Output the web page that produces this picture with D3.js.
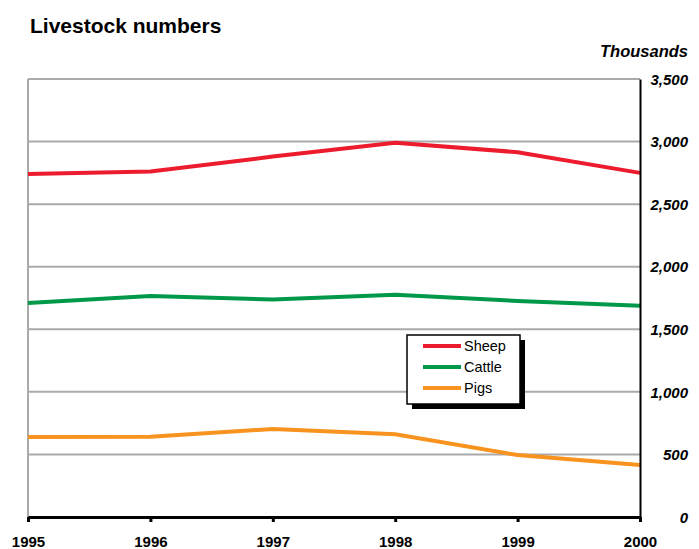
<!DOCTYPE html>
<html>
<head>
<meta charset="utf-8">
<script src="https://cdn.jsdelivr.net/npm/d3@7"></script>
<style>
  body { margin: 0; background: #fff; }
  text { font-family: "Liberation Sans", Arial, Helvetica, sans-serif; }
</style>
</head>
<body>
<div id="chart"></div>
<script>
// Data

var years = [1995, 1996, 1997, 1998, 1999, 2000];
var sheep = [2740, 2760, 2880, 2990, 2915, 2750];
var cattle = [1710, 1766, 1738, 1776, 1726, 1688];
var pigs = [640, 642, 703, 661, 495, 415];
var yTicks = [0, 500, 1000, 1500, 2000, 2500, 3000, 3500];

var series = [
  {name: "Sheep", values: sheep, color: "#ec1c2e"},
  {name: "Cattle", values: cattle, color: "#00994a"},
  {name: "Pigs", values: pigs, color: "#f7931e"}
];

var margin = {top: 79, right: 59, bottom: 32, left: 28};
    width = 699 - margin.left - margin.right;
    height = 549 - margin.top - margin.bottom;

var svg = d3.select("#chart")
    .append("svg")
    .attr("width", 699)
    .attr("height", 549);

var g = svg.append("g")
    .attr("transform", `translate(${margin.left}, ${margin.top})`);

// Scales

var xScale = d3.scalePoint()
    .domain(years)
    .range([0, width]);

var yScale = d3.scaleLinear()
    .domain([0, 3500])
    .range([height, 0]);

// Gridlines

g.selectAll(".grid")
    .data(yTicks.filter(function(d) { return d > 0; }))
    .enter().append("line")
    .attr("x1", 0)
    .attr("x2", width)
    .attr("y1", function(d) { return yScale(d); })
    .attr("y2", function(d) { return yScale(d); })
    .attr("stroke", "#aaaaaa")
    .attr("stroke-width", 2);

// left border (grey)
g.append("line")
    .attr("x1", 0).attr("x2", 0)
    .attr("y1", 0).attr("y2", height)
    .attr("stroke", "#aaaaaa")
    .attr("stroke-width", 2);

// Lines

var line = d3.line()
    .x(function(d, i) { return xScale(years[i]); })
    .y(function(d) { return yScale(d); });

g.selectAll(".series")
    .data(series)
    .enter().append("path")
    .attr("d", function(d) { return line(d.values); })
    .attr("fill", "none")
    .attr("stroke", function(d) { return d.color; })
    .attr("stroke-width", 4);

// Right axis

var yAxis = g.append("g")
    .attr("transform", `translate(${width}, 0)`)
    .call(d3.axisRight(yScale).tickValues(yTicks).tickSize(0).tickFormat(d3.format(",")));

yAxis.select(".domain")
    .attr("stroke", "#000")
    .attr("stroke-width", 2);

yAxis.selectAll(".tick text")
    .attr("x", 48)
    .attr("text-anchor", "end")
    .attr("dy", "0.35em")
    .style("font-size", "15px")
    .style("font-weight", "bold")
    .style("font-style", "italic")
    .attr("fill", "#000");

// Bottom axis

var xAxis = g.append("g")
    .attr("transform", `translate(0, ${height})`)
    .call(d3.axisBottom(xScale).tickSize(5).tickSizeOuter(0).tickPadding(14));

xAxis.select(".domain")
    .attr("stroke", "#000")
    .attr("stroke-width", 3);

xAxis.selectAll(".tick line")
    .attr("stroke", "#000")
    .attr("stroke-width", 3);

xAxis.selectAll(".tick text")
    .style("font-size", "15px")
    .style("font-weight", "bold")
    .attr("fill", "#000");

// Labels

svg.append("text")
  .attr("x", 30)
  .attr("y", 33)
  .text("Livestock numbers")
  .style("font-size", "21px")
  .style("font-weight", "bold");

svg.append("text")
  .attr("x", 688)
  .attr("y", 57)
  .attr("text-anchor", "end")
  .text("Thousands")
  .style("font-size", "16.5px")
  .style("font-weight", "bold")
  .style("font-style", "italic");

// Legend

var legend = svg.append("g")
  .attr("transform", "translate(407, 335)");

legend.append("rect")
  .attr("x", 5).attr("y", 5)
  .attr("width", 113).attr("height", 69)
  .attr("fill", "#000");

legend.append("rect")
  .attr("width", 113).attr("height", 69)
  .attr("fill", "#fff")
  .attr("stroke", "#000")
  .attr("stroke-width", 1.5);

var items = legend.selectAll(".item")
  .data(series)
  .enter().append("g")
  .attr("transform", function(d, i) { return `translate(0, ${11 + i * 21})`; });

items.append("line")
  .attr("x1", 16).attr("x2", 54)
  .attr("y1", 0).attr("y2", 0)
  .attr("stroke", function(d) { return d.color; })
  .attr("stroke-width", 4);

items.append("text")
  .attr("x", 57)
  .attr("dy", "0.35em")
  .text(function(d) { return d.name; })
  .style("font-size", "14.5px");
</script>
</body>
</html>
